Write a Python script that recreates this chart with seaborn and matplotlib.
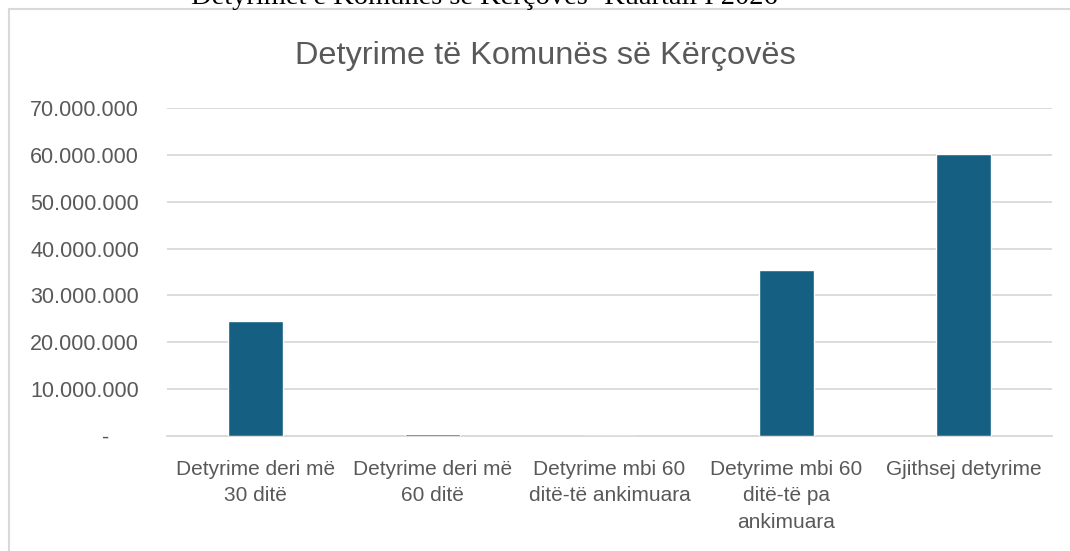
import matplotlib
matplotlib.use("Agg")
import matplotlib.pyplot as plt
from matplotlib.patches import Rectangle
from matplotlib.ticker import FuncFormatter, MultipleLocator
import seaborn as sns
import pandas as pd

categories = ["Detyrime deri më\n30 ditë", "Detyrime deri më\n60 ditë",
              "Detyrime mbi 60\nditë-të ankimuara", "Detyrime mbi 60\nditë-të pa\nankimuara",
              "Gjithsej detyrime"]
values = [24500000, 500000, 0, 35400000, 60250000]
title = "Detyrime të Komunës së Kërçovës"
caption = "Detyrimet e Komunës së Kërçovës- Kuartali I 2026"

sns.set_theme(style="white")
plt.rcParams['font.family'] = ['Liberation Sans', 'DejaVu Sans']

W, H = 1070, 551
fig = plt.figure(figsize=(W/100, H/100), dpi=100)
ax = fig.add_axes([167/W, 1-436/H, (1052-167)/W, (436-108)/H])

df = pd.DataFrame({"cat": categories, "val": values})
sns.barplot(data=df, x="cat", y="val", color="#156082", width=0.316, ax=ax, saturation=1)
for p in ax.patches:
    p.set_zorder(3)

ax.set_ylim(0, 70000000)
ax.set_xlim(-0.5, 4.5)
ax.yaxis.set_major_locator(MultipleLocator(10000000))
def fmt(v, pos):
    if abs(v) < 1:
        return "-     "
    return f"{int(round(v)):,}".replace(",", ".")
ax.yaxis.set_major_formatter(FuncFormatter(fmt))
ax.grid(axis="y", color="#d9d9d9", linewidth=1.3)
ax.set_axisbelow(True)
for s in ["top", "right", "left"]:
    ax.spines[s].set_visible(False)
ax.spines["bottom"].set_color("#d9d9d9")
ax.spines["bottom"].set_linewidth(1.3)
ax.spines["bottom"].set_zorder(1)
ax.tick_params(axis="y", length=0, pad=20, labelsize=15.5, labelcolor="#595959")
ax.tick_params(axis="x", length=0, pad=17, labelsize=15, labelcolor="#595959")
for lab in ax.get_xticklabels():
    lab.set_linespacing(1.5)
ax.set_xlabel("")
ax.set_ylabel("")

fig.text(545/W, 1-56/H, title, ha="center", va="center", fontsize=23.4, color="#595959")
fig.text(484/W, 1-4/H, caption, ha="center", va="baseline", fontsize=20.5,
         family=['Liberation Serif', 'DejaVu Serif'], color="#000000")

fig.patches.append(Rectangle((8.5/W, -0.05), 1.1, 1-9/H+0.05, transform=fig.transFigure,
                             fill=False, edgecolor="#d9d9d9", linewidth=1.5))

fig.savefig("out.png", dpi=100, facecolor="white")
